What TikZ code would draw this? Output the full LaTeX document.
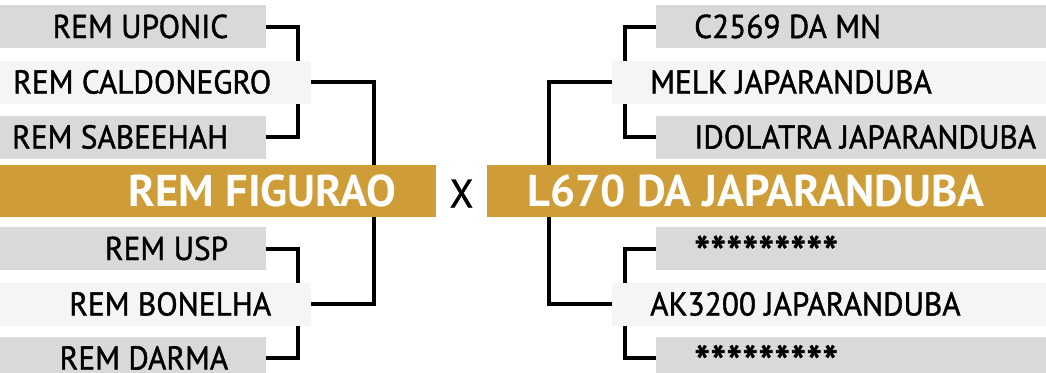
\documentclass[tikz,border=0pt]{standalone}
\usepackage{fontspec}
\setmainfont{PT Sans}
\newfontfamily\horsefont{PT Sans}[FakeStretch=0.95, FakeBold=1.2]
\usetikzlibrary{positioning}

\definecolor{gold}{HTML}{CF9D37}
\definecolor{seedgray}{HTML}{D9D9D9}
\definecolor{sirelight}{HTML}{F5F5F5}

\pgfdeclarelayer{background}
\pgfsetlayers{background,main}

\newcommand{\stars}{\raisebox{-10pt}{\fontsize{48}{48}\selectfont *********}}

\tikzset{
  seed/.style={fill=seedgray, minimum height=43pt, inner sep=0pt, anchor=west},
  sire/.style={fill=sirelight, minimum height=43pt, inner sep=0pt, anchor=west},
  champ/.style={fill=gold, minimum height=52pt, inner sep=0pt, anchor=west},
  horse/.style={inner sep=0pt, text height=23pt, text depth=0pt, font=\horsefont\fontsize{33}{33}\selectfont},
  bighorse/.style={inner sep=0pt, text height=31pt, text depth=0pt, text=white, font=\fontsize{44.5}{44.5}\selectfont\bfseries},
  bracket/.style={line width=4pt}
}

\begin{document}
\begin{tikzpicture}[x=1pt, y=-1pt]
  \useasboundingbox (0,0) rectangle (1046,372);

  % left side
  \node[seed, minimum width=266pt] (uponic) at (0,26.5) {};
  \node[sire, minimum width=311pt] (caldonegro) at (0,82) {};
  \node[seed, minimum width=266pt] (sabeehah) at (0,137) {};
  \node[champ, minimum width=436pt] (figurao) at (0,191) {};
  \node[seed, minimum width=266pt] (usp) at (0,248.5) {};
  \node[sire, minimum width=311pt] (bonelha) at (0,304) {};
  \node[seed, minimum width=266pt] (darma) at (0,358) {};

  \node[horse, left=38pt of uponic.east] (uponic-t) {REM UPONIC};
  \node[horse, left=40pt of caldonegro.east] (caldonegro-t) {REM CALDONEGRO};
  \node[horse, left=38pt of sabeehah.east] (sabeehah-t) {REM SABEEHAH};
  \node[bighorse, left=40pt of figurao.east] (figurao-t) {REM FIGURAO};
  \node[horse, left=38pt of usp.east] (usp-t) {REM USP};
  \node[horse, left=40pt of bonelha.east] (bonelha-t) {REM BONELHA};
  \node[horse, left=38pt of darma.east] (darma-t) {REM DARMA};

  % right side
  \node[seed, minimum width=390pt] (c2569) at (656,26.5) {};
  \node[sire, minimum width=434pt] (melk) at (612,82) {};
  \node[seed, minimum width=390pt] (idolatra) at (656,137) {};
  \node[champ, minimum width=559pt] (l670) at (487,191) {};
  \node[seed, minimum width=390pt] (stars-a) at (656,248.5) {};
  \node[sire, minimum width=434pt] (ak3200) at (612,304) {};
  \node[seed, minimum width=390pt] (stars-b) at (656,358) {};

  \node[horse, right=38pt of c2569.west] (c2569-t) {C2569 DA MN};
  \node[horse, right=38pt of melk.west] (melk-t) {MELK JAPARANDUBA};
  \node[horse, right=38pt of idolatra.west] (idolatra-t) {IDOLATRA JAPARANDUBA};
  \node[bighorse, right=40pt of l670.west] (l670-t) {L670 DA JAPARANDUBA};
  \node[horse, right=38pt of stars-a.west] (stars-a-t) {\stars};
  \node[horse, right=38pt of ak3200.west] (ak3200-t) {AK3200 JAPARANDUBA};
  \node[horse, right=38pt of stars-b.west] (stars-b-t) {\stars};

  \node[horse, anchor=base, font=\horsefont\fontsize{40}{40}\selectfont] (vs) at (461.5,207.5) {X};

  % brackets behind the boxes
  \begin{pgfonlayer}{background}
    \draw[bracket] (uponic.east) -- ++(31.5,0) |- (sabeehah.east);
    \draw[bracket] (caldonegro.east) -- ++(63,0) |- (bonelha.east);
    \draw[bracket] (usp.east) -- ++(31.5,0) |- (darma.east);
    \draw[bracket] (c2569.west) -- ++(-31.5,0) |- (idolatra.west);
    \draw[bracket] (melk.west) -- ++(-63,0) |- (ak3200.west);
    \draw[bracket] (stars-a.west) -- ++(-31.5,0) |- (stars-b.west);
  \end{pgfonlayer}
\end{tikzpicture}
\end{document}
